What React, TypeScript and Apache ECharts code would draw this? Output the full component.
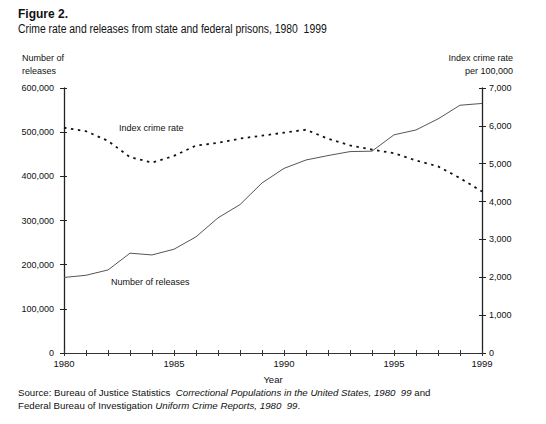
import React, { useEffect, useRef } from "react";
import * as echarts from "echarts";

const years = [1980, 1981, 1982, 1983, 1984, 1985, 1986, 1987, 1988, 1989, 1990, 1991, 1992, 1993, 1994, 1995, 1996, 1997, 1998, 1999];
const releases = [171000, 176000, 188000, 226000, 222000, 235000, 263000, 306000, 336000, 385000, 418000, 437000, 447000, 456000, 457000, 494000, 505000, 530000, 561000, 565000];
const crimeRate = [5950, 5858, 5604, 5175, 5031, 5207, 5480, 5550, 5664, 5741, 5820, 5898, 5660, 5484, 5374, 5276, 5087, 4930, 4620, 4267];
const xLabelYears = [1980, 1985, 1990, 1995, 1999];

const FONT = "Liberation Sans, Arial, sans-serif";

export default function App() {
  const ref = useRef<HTMLDivElement>(null);
  useEffect(() => {
    if (!ref.current) return;
    const chart = echarts.init(ref.current, null, { renderer: "svg" });
    const axisColor = "#222";
    const fmt = (v: number) => v.toLocaleString("en-US");
    const hidden = { show: false };
    chart.setOption({
      animation: false,
      backgroundColor: "#fff",
      grid: { left: 64, right: 64, top: 88, bottom: 71, containLabel: false },
      xAxis: [
        {
          type: "value", min: 1980, max: 1999, interval: 1, position: "bottom",
          name: "Year", nameLocation: "middle", nameGap: 21,
          nameTextStyle: { fontFamily: FONT, fontSize: 9.5, color: "#111" },
          axisLine: { show: true, lineStyle: { color: "#333", width: 1.2 } },
          axisTick: { show: true, inside: false, length: 3, lineStyle: { color: "#333" } },
          axisLabel: {
            margin: 5, fontFamily: FONT, fontSize: 9.5, color: "#111",
            showMinLabel: true, showMaxLabel: true,
            formatter: (v: number) => (xLabelYears.includes(v) ? String(v) : ""),
          },
          splitLine: hidden,
        },
        {
          type: "value", min: 1980, max: 1999, interval: 1, position: "bottom",
          axisLine: hidden, axisLabel: hidden, splitLine: hidden,
          axisTick: { show: true, inside: true, length: 3, lineStyle: { color: "#333" } },
        },
      ],
      yAxis: [
        {
          type: "value", min: 0, max: 600000, interval: 100000, position: "left",
          axisLine: { show: true, lineStyle: { color: axisColor, width: 1.3 } },
          axisTick: { show: true, inside: false, length: 4, lineStyle: { color: axisColor } },
          axisLabel: { margin: 10, fontFamily: FONT, fontSize: 9, color: "#111", formatter: fmt },
          splitLine: hidden,
        },
        {
          type: "value", min: 0, max: 7000, interval: 1000, position: "right",
          axisLine: { show: true, lineStyle: { color: axisColor, width: 1.3 } },
          axisTick: { show: true, inside: false, length: 4, lineStyle: { color: axisColor } },
          axisLabel: { margin: 7, fontFamily: FONT, fontSize: 9, color: "#111", formatter: fmt },
          splitLine: hidden,
        },
        {
          type: "value", min: 0, max: 600000, interval: 100000, position: "left",
          axisLine: hidden, axisLabel: hidden, splitLine: hidden,
          axisTick: { show: true, inside: true, length: 3, lineStyle: { color: axisColor } },
        },
        {
          type: "value", min: 0, max: 7000, interval: 1000, position: "right",
          axisLine: hidden, axisLabel: hidden, splitLine: hidden,
          axisTick: { show: true, inside: true, length: 3, lineStyle: { color: axisColor } },
        },
      ],
      series: [
        {
          name: "Number of releases", type: "line", xAxisIndex: 0, yAxisIndex: 0,
          data: years.map((y, i) => [y, releases[i]]),
          showSymbol: false, symbol: "none",
          lineStyle: { color: "#555", width: 1 },
        },
        {
          name: "Index crime rate", type: "line", xAxisIndex: 0, yAxisIndex: 1,
          data: years.map((y, i) => [y, crimeRate[i]]),
          showSymbol: false, symbol: "none",
          lineStyle: { color: "#111", width: 1.8, type: [2.5, 4.5] },
        },
      ],
      graphic: [
        { type: "text", style: { x: 18, y: 14, text: "Figure 2.", font: "bold 12px " + FONT, fill: "#111", verticalAlign: "middle" } },
        { type: "text", x: 18, y: 29, scaleX: 0.77, style: { x: 0, y: 0, text: "Crime rate and releases from state and federal prisons, 1980  1999", font: "13.5px " + FONT, fill: "#111", verticalAlign: "middle" } },
        { type: "text", style: { x: 22, y: 58, text: "Number of", font: "9px " + FONT, fill: "#111", verticalAlign: "middle" } },
        { type: "text", style: { x: 22, y: 71, text: "releases", font: "9px " + FONT, fill: "#111", verticalAlign: "middle" } },
        { type: "text", style: { x: 513, y: 58, text: "Index crime rate", font: "9px " + FONT, fill: "#111", verticalAlign: "middle", align: "right" } },
        { type: "text", style: { x: 513, y: 71, text: "per 100,000", font: "9px " + FONT, fill: "#111", verticalAlign: "middle", align: "right" } },
        { type: "text", style: { x: 119, y: 128, text: "Index crime rate", font: "9px " + FONT, fill: "#111", verticalAlign: "middle" } },
        { type: "text", style: { x: 111, y: 282, text: "Number of releases", font: "9px " + FONT, fill: "#111", verticalAlign: "middle" } },
        {
          type: "text",
          style: {
            x: 18, y: 392.5, verticalAlign: "middle", fill: "#111", font: "9.7px " + FONT,
            text: "Source: Bureau of Justice Statistics  {i|Correctional Populations in the United States, 1980  99} and",
            rich: { i: { fontStyle: "italic", fontSize: 9.7, fontFamily: FONT, fill: "#111" } },
          },
        },
        {
          type: "text",
          style: {
            x: 18, y: 405.5, verticalAlign: "middle", fill: "#111", font: "9.7px " + FONT,
            text: "Federal Bureau of Investigation {i|Uniform Crime Reports, 1980  99}.",
            rich: { i: { fontStyle: "italic", fontSize: 9.7, fontFamily: FONT, fill: "#111" } },
          },
        },
      ],
    });
    return () => chart.dispose();
  }, []);
  return <div ref={ref} style={{ position: "fixed", left: 0, top: 0, width: 546, height: 424 }} />;
}
